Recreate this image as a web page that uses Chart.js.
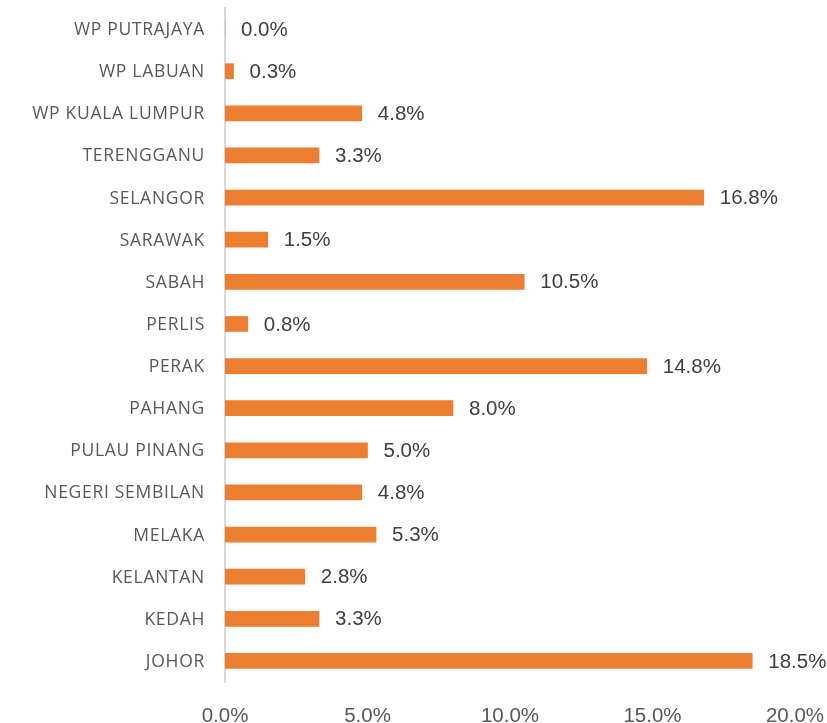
<!DOCTYPE html>
<html>
<head>
<meta charset="utf-8">
<script src="https://cdn.jsdelivr.net/npm/chart.js@4.4.0/dist/chart.umd.min.js"></script>
<style>
  html, body { margin: 0; padding: 0; background: #fff; }
  #wrap { width: 827px; height: 723px; }
</style>
</head>
<body>
<div id="wrap"><canvas id="myChart" width="827" height="723"></canvas></div>
<script>
const states = ['WP PUTRAJAYA', 'WP LABUAN', 'WP KUALA LUMPUR', 'TERENGGANU', 'SELANGOR', 'SARAWAK', 'SABAH', 'PERLIS',
    'PERAK', 'PAHANG', 'PULAU PINANG', 'NEGERI SEMBILAN', 'MELAKA', 'KELANTAN', 'KEDAH', 'JOHOR'];
const shares = [0.0, 0.3, 4.8, 3.3, 16.8, 1.5, 10.5, 0.8, 14.8, 8.0, 5.0, 4.8, 5.3, 2.8, 3.3, 18.5];
const xTicks = [0, 5, 10, 15, 20];

// category names (drawn here so they can get a bit of letter spacing) and value labels
const labelsPlugin = {
    id: 'labelsPlugin',
    afterDatasetsDraw(chart) {
        const ctx = chart.ctx;
        const yScale = chart.scales.y;
        const meta = chart.getDatasetMeta(0);
        ctx.save();
        ctx.font = '17.5px "Open Sans", sans-serif';
        ctx.letterSpacing = '0.7px';
        ctx.fillStyle = '#595959';
        ctx.textAlign = 'right';
        ctx.textBaseline = 'middle';
        states.forEach((s, i) => {
            ctx.fillText(s, yScale.right - 20, yScale.getPixelForValue(i) + 1);
        });
        ctx.letterSpacing = '0px';
        ctx.font = '20.5px "Liberation Sans", Arial, sans-serif';
        ctx.fillStyle = '#404040';
        ctx.textAlign = 'left';
        meta.data.forEach((bar, i) => {
            ctx.fillText(shares[i].toFixed(1) + '%', bar.x + 16, bar.y + 1);
        });
        ctx.restore();
    }
};

const ctx = document.getElementById('myChart').getContext('2d');
const myChart = new Chart(ctx, {
    type: 'bar',
    data: {
        labels: states,
        datasets: [{
            data: shares,
            backgroundColor: '#ED7D31',
            barThickness: 15
        }]
    },
    options: {
        indexAxis: 'y',
        responsive: false,
        animation: false,
        layout: { padding: { top: 8, right: 32, left: 0, bottom: 0 } },
        plugins: {
            legend: { display: false },
            tooltip: { enabled: false }
        },
        scales: {
            x: {
                min: 0,
                max: 20,
                afterFit(scale) {
                    scale.height = 41;
                    scale.paddingLeft = 0;
                    scale.paddingRight = 0;
                },
                afterBuildTicks(scale) { scale.ticks = xTicks.map(v => ({ value: v })); },
                grid: { display: false, drawTicks: false },
                border: { display: false },
                ticks: {
                    padding: 22,
                    color: '#595959',
                    font: { family: '"Liberation Sans", Arial, sans-serif', size: 20.5 },
                    maxRotation: 0,
                    callback: v => v.toFixed(1) + '%'
                }
            },
            y: {
                afterFit(scale) { scale.width = 225; },
                grid: { display: false, drawTicks: false },
                border: { display: true, color: '#d9d9d9', width: 2 },
                ticks: { display: false }
            }
        }
    },
    plugins: [labelsPlugin]
});
</script>
</body>
</html>
